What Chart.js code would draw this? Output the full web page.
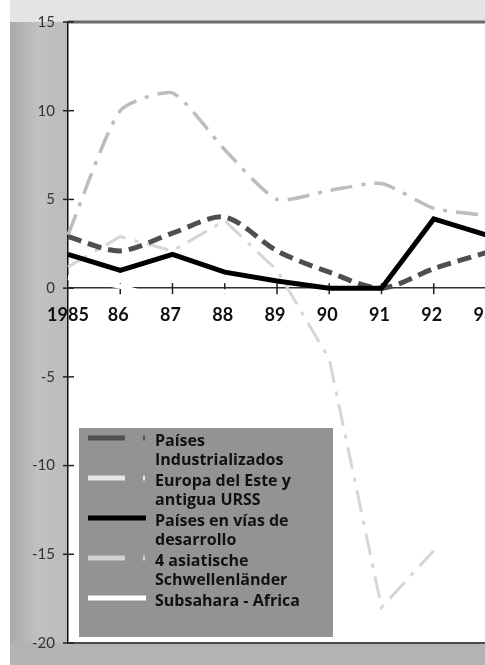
<!DOCTYPE html>
<html>
<head>
<meta charset="utf-8">
<script src="https://cdn.jsdelivr.net/npm/chart.js@4/dist/chart.umd.min.js"></script>
<style>
  html, body { margin: 0; padding: 0; background: #fff; overflow: hidden; }
  #wrap { position: relative; width: 510px; height: 665px; }
</style>
</head>
<body>
<div id="wrap"><canvas id="myChart" width="510" height="665"></canvas></div>
<script>
// years on the x axis
const years = ['1985', '86', '87', '88', '89', '90', '91', '92', '93'];
const yTicks = [15, 10, 5, 0, -5, -10, -15, -20];

// growth rates (%)
const industrializados = [2.9, 2.1, 3.1, 4.0, 2.1, 0.9, 0, 1.1, 2.0];
const europaEste = [1.2, 2.9, 2.1, 3.8, 1.0, -4.0, -18.0, -14.8, null];
const desarrollo = [1.9, 1.0, 1.9, 0.9, 0.4, 0, 0, 3.9, 3.0];
const asiaticos = [3.0, 10.0, 11.0, 7.8, 5.0, 5.5, 5.9, 4.5, 4.1];
const subsahara = [0.6, 0.1, -0.7, -0.2, -1.0, -2.0, -1.6, -1.3, -0.6];

const legendLines = [
  ['Países', 'Industrializados'],
  ['Europa del Este y', 'antigua URSS'],
  ['Países en vías de', 'desarrollo'],
  ['4 asiatische', 'Schwellenländer'],
  ['Subsahara - Africa']
];

// background: grey strip left, light band on top, grey band under the plot
const backdrop = {
  id: 'backdrop',
  beforeDraw(chart) {
    const { ctx, chartArea: a, width, height } = chart;
    ctx.save();
    ctx.fillStyle = '#ffffff';
    ctx.fillRect(0, 0, width, height);
    const g = ctx.createLinearGradient(10, 0, a.left, 0);
    g.addColorStop(0, '#a9a9a9');
    g.addColorStop(0.5, '#c2c2c2');
    g.addColorStop(1, '#bbbbbb');
    ctx.fillStyle = g;
    ctx.fillRect(10, 0, a.left - 10, height);
    ctx.fillStyle = '#e4e4e4';
    ctx.fillRect(10, 0, width, a.top);
    ctx.fillStyle = '#b3b3b3';
    ctx.fillRect(10, a.bottom, width, height - a.bottom);
    ctx.restore();
  },
  beforeDatasetsDraw(chart) {
    const { ctx, chartArea: a, scales } = chart;
    ctx.save();
    // frame top and bottom
    ctx.strokeStyle = '#6a6a6a';
    ctx.lineWidth = 3;
    ctx.beginPath();
    ctx.moveTo(a.left, a.top);
    ctx.lineTo(chart.width, a.top);
    ctx.stroke();
    ctx.strokeStyle = '#4a4a4a';
    ctx.lineWidth = 2;
    ctx.beginPath();
    ctx.moveTo(a.left, a.bottom);
    ctx.lineTo(chart.width, a.bottom);
    ctx.stroke();
    // crossing tick marks
    ctx.strokeStyle = '#222';
    ctx.lineWidth = 1.5;
    const y0 = scales.y.getPixelForValue(0);
    years.forEach((lab, i) => {
      if (i === 0) return;
      const x = scales.x.getPixelForValue(i);
      ctx.beginPath();
      ctx.moveTo(x, y0 - 5);
      ctx.lineTo(x, y0 + 6);
      ctx.stroke();
    });
    yTicks.forEach(v => {
      const y = scales.y.getPixelForValue(v);
      ctx.beginPath();
      ctx.moveTo(a.left - 5, y);
      ctx.lineTo(a.left + 6, y);
      ctx.stroke();
    });
    ctx.restore();
  },
  afterDatasetsDraw(chart) {
    // year labels sit on top of the lines
    const { ctx, scales } = chart;
    const y0 = scales.y.getPixelForValue(0);
    ctx.save();
    ctx.fillStyle = '#111';
    ctx.font = 'bold 18px Lato';
    ctx.textAlign = 'center';
    ctx.textBaseline = 'middle';
    years.forEach((lab, i) => {
      const shift = i === 0 ? 0 : -2;
      ctx.fillText(lab, scales.x.getPixelForValue(i) + shift, y0 + 27);
    });
    ctx.restore();
  }
};

// legend box drawn by hand (labels run over two lines)
const legendBox = {
  id: 'legendBox',
  afterDatasetsDraw(chart) {
    const ctx = chart.ctx;
    ctx.save();
    ctx.fillStyle = '#939393';
    ctx.fillRect(79, 428, 254, 209);
    let y = 441;
    chart.data.datasets.forEach((ds, i) => {
      ctx.strokeStyle = ds.legendColor;
      ctx.lineWidth = 5;
      ctx.lineCap = 'butt';
      ctx.setLineDash(ds.borderDash.length ? [37, 18, 2, 100] : []);
      ctx.beginPath();
      ctx.moveTo(88, y - 3);
      ctx.lineTo(146, y - 3);
      ctx.stroke();
      ctx.setLineDash([]);
      ctx.fillStyle = '#111';
      ctx.font = 'bold 16px "Open Sans"';
      ctx.textBaseline = 'middle';
      legendLines[i].forEach((t, k) => {
        ctx.fillText(t, 155, y + k * 19.5);
      });
      y += legendLines[i].length * 20;
    });
    ctx.restore();
  }
};

const ctx = document.getElementById('myChart');

new Chart(ctx, {
  type: 'line',
  data: {
    labels: years,
    datasets: [
      {
        label: legendLines[0].join(' '),
        data: industrializados,
        borderColor: '#4f4f4f',
        legendColor: '#505050',
        borderWidth: 5,
        borderDash: [14, 7],
        tension: 0.3
      },
      {
        label: legendLines[1].join(' '),
        data: europaEste,
        borderColor: '#d6d6d6',
        legendColor: '#e6e6e6',
        borderWidth: 3,
        borderDash: [22, 9, 4, 9],
        tension: 0
      },
      {
        label: legendLines[2].join(' '),
        data: desarrollo,
        borderColor: '#000000',
        legendColor: '#000000',
        borderWidth: 5,
        borderDash: [],
        tension: 0,
        order: -1
      },
      {
        label: legendLines[3].join(' '),
        data: asiaticos,
        borderColor: '#bdbdbd',
        legendColor: '#d2d2d2',
        borderWidth: 3.5,
        borderDash: [22, 9, 4, 9],
        tension: 0.2
      },
      {
        label: legendLines[4].join(' '),
        data: subsahara,
        borderColor: '#ffffff',
        legendColor: '#ffffff',
        borderWidth: 5,
        borderDash: [],
        tension: 0.3
      }
    ]
  },
  options: {
    responsive: false,
    animation: false,
    events: [],
    layout: { padding: { top: 15, bottom: 12, left: 0, right: 24 } },
    elements: { point: { radius: 0 } },
    plugins: {
      legend: { display: false },
      tooltip: { enabled: false }
    },
    scales: {
      x: {
        type: 'category',
        position: { y: 0 },
        offset: false,
        grid: { display: false, drawTicks: false },
        border: { display: true, color: '#333', width: 1.5 },
        ticks: { display: false }
      },
      y: {
        min: -20,
        max: 15,
        afterBuildTicks: s => { s.ticks = yTicks.map(v => ({ value: v })); },
        afterFit: s => { s.width = 68; },
        grid: { display: false, drawTicks: false },
        border: { display: true, color: '#111', width: 1.5 },
        ticks: {
          padding: 13,
          color: '#333',
          font: { family: 'Lato', size: 15 }
        }
      }
    }
  },
  plugins: [backdrop, legendBox]
});
</script>
</body>
</html>
